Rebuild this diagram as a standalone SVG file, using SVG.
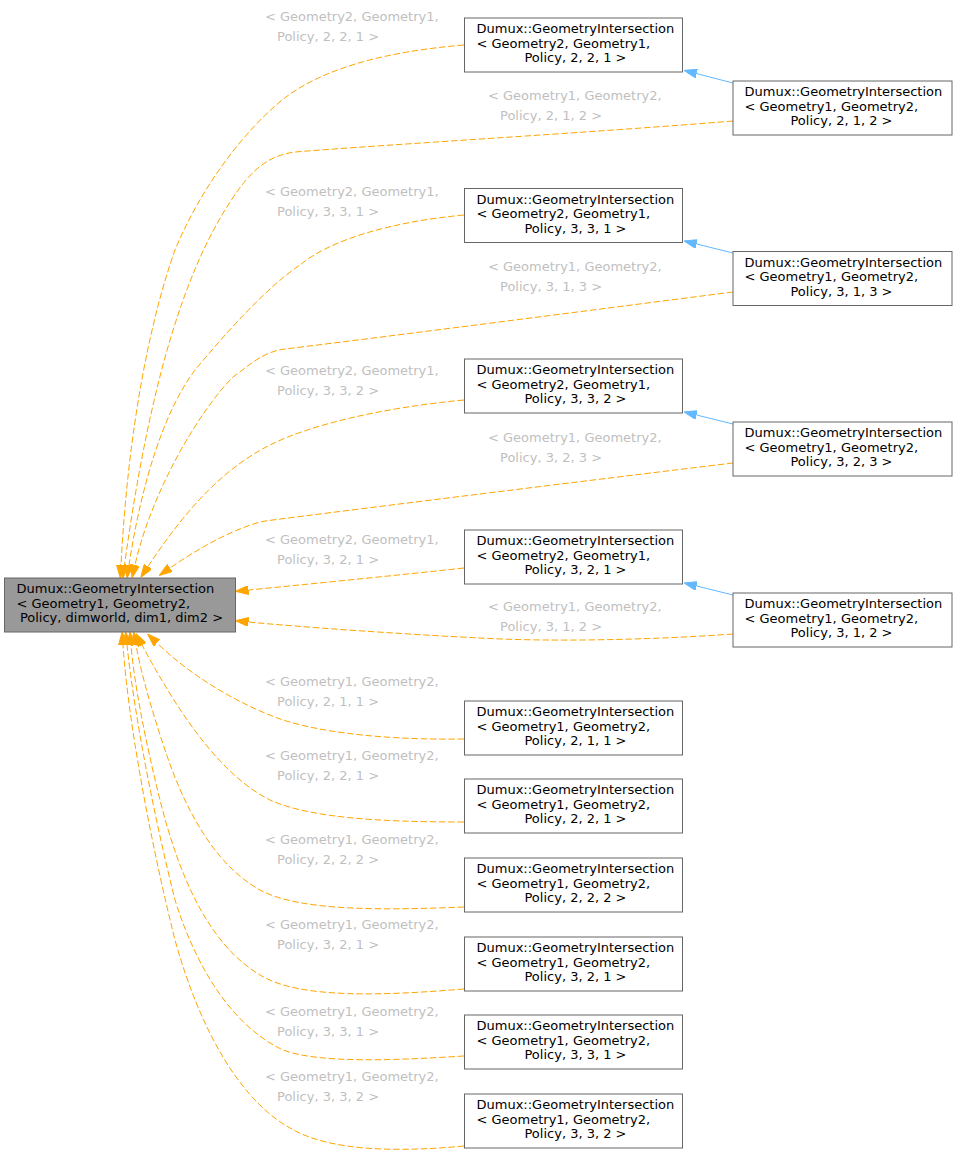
<svg xmlns="http://www.w3.org/2000/svg" width="957" height="1156" viewBox="0 0 957 1156">
<style>
.box{fill:#ffffff;stroke:#666666;stroke-width:1}
.main{fill:#999999;stroke:#666666;stroke-width:1}
.t{font-family:"DejaVu Sans","Liberation Sans",sans-serif;font-size:13px;fill:#000000}
.m{text-anchor:middle}
.lbl{font-family:"DejaVu Sans","Liberation Sans",sans-serif;font-size:13px;fill:#bfbfbf}
.oe{fill:none;stroke:#ffa500;stroke-width:1;stroke-dasharray:6.5,2.7}
.be{fill:none;stroke:#63b8ff;stroke-width:1}
</style>
<defs>
<marker id="ao" viewBox="0 0 13 9" refX="0" refY="4.5" markerWidth="13" markerHeight="9" markerUnits="userSpaceOnUse" orient="auto">
<path d="M0,0 L13,4.5 L0,9 z" fill="#ffa500" stroke="#ffa500" stroke-width="1"/>
</marker>
<marker id="ab" viewBox="0 0 13 9" refX="0" refY="4.5" markerWidth="13" markerHeight="9" markerUnits="userSpaceOnUse" orient="auto">
<path d="M0,0 L13,4.5 L0,9 z" fill="#63b8ff" stroke="#63b8ff" stroke-width="1"/>
</marker>
</defs>
<rect width="957" height="1156" fill="#ffffff"/>
<g id="connectors">
<path class="oe" marker-end="url(#ao)" d="M464,45 C380,52 320,70 282,100 C240,135 200,190 175,250 C150,320 128,430 121,565"/>
<path class="oe" marker-end="url(#ao)" d="M733,121 C600,132 380,145 295,152 C262,156 245,178 225,210 C185,275 150,380 124.5,565"/>
<path class="oe" marker-end="url(#ao)" d="M464,215 C390,222 330,240 300,265 C265,288 220,340 195,370 C165,410 142,480 129,565"/>
<path class="oe" marker-end="url(#ao)" d="M733,292 C600,309 400,335 285,349 C262,352 250,365 233,377 C200,410 152,490 135,565"/>
<path class="oe" marker-end="url(#ao)" d="M464,400 C380,408 310,425 270,445 C220,470 182,515 148,566.5"/>
<path class="oe" marker-end="url(#ao)" d="M733,463 C600,479 350,510 265,521 C240,526 203,545 170,568"/>
<path class="oe" marker-end="url(#ao)" d="M464,568 C400,575 300,585 248.5,590"/>
<path class="oe" marker-end="url(#ao)" d="M733,634 C650,640 550,642 480,638 C400,634 300,627 248.5,622"/>
<path class="oe" marker-end="url(#ao)" d="M464,739 C400,740 330,735 283,720 C240,705 192,677 157,643"/>
<path class="oe" marker-end="url(#ao)" d="M464,822 C380,822 310,818 270,800 C220,775 178,712 142,645"/>
<path class="oe" marker-end="url(#ao)" d="M464,907 C390,910 300,912 260,890 C215,865 185,810 165,750 C150,705 141,672 136,645"/>
<path class="oe" marker-end="url(#ao)" d="M464,989 C390,995 300,1000 260,975 C210,945 180,880 160,800 C145,740 134,682 131,645"/>
<path class="oe" marker-end="url(#ao)" d="M464,1056 C400,1060 320,1064 283,1050 C240,1030 200,980 175,900 C155,820 135,720 127,645"/>
<path class="oe" marker-end="url(#ao)" d="M464,1146 C400,1152 330,1152 290,1128 C240,1100 200,1030 175,940 C150,840 128,720 123,645"/>
<path class="be" marker-end="url(#ab)" d="M733,83 L696.6,73.6"/>
<path class="be" marker-end="url(#ab)" d="M733,253 L696.6,244"/>
<path class="be" marker-end="url(#ab)" d="M733,424 L696.6,415"/>
<path class="be" marker-end="url(#ab)" d="M733,595 L696.6,586"/>
</g>
<g id="edge-labels">
<text class="lbl" x="265" y="21">&lt; Geometry2, Geometry1,</text><text class="lbl" x="277" y="41">Policy, 2, 2, 1 &gt;</text>
<text class="lbl" x="488" y="100">&lt; Geometry1, Geometry2,</text><text class="lbl" x="500" y="120">Policy, 2, 1, 2 &gt;</text>
<text class="lbl" x="265" y="196">&lt; Geometry2, Geometry1,</text><text class="lbl" x="277" y="216">Policy, 3, 3, 1 &gt;</text>
<text class="lbl" x="488" y="271">&lt; Geometry1, Geometry2,</text><text class="lbl" x="500" y="291">Policy, 3, 1, 3 &gt;</text>
<text class="lbl" x="265" y="375">&lt; Geometry2, Geometry1,</text><text class="lbl" x="277" y="395">Policy, 3, 3, 2 &gt;</text>
<text class="lbl" x="488" y="442">&lt; Geometry1, Geometry2,</text><text class="lbl" x="500" y="462">Policy, 3, 2, 3 &gt;</text>
<text class="lbl" x="265" y="544">&lt; Geometry2, Geometry1,</text><text class="lbl" x="277" y="564">Policy, 3, 2, 1 &gt;</text>
<text class="lbl" x="488" y="611">&lt; Geometry1, Geometry2,</text><text class="lbl" x="500" y="631">Policy, 3, 1, 2 &gt;</text>
<text class="lbl" x="265" y="685.5">&lt; Geometry1, Geometry2,</text><text class="lbl" x="277" y="705.5">Policy, 2, 1, 1 &gt;</text>
<text class="lbl" x="265" y="759.5">&lt; Geometry1, Geometry2,</text><text class="lbl" x="277" y="779.5">Policy, 2, 2, 1 &gt;</text>
<text class="lbl" x="265" y="844">&lt; Geometry1, Geometry2,</text><text class="lbl" x="277" y="864">Policy, 2, 2, 2 &gt;</text>
<text class="lbl" x="265" y="929">&lt; Geometry1, Geometry2,</text><text class="lbl" x="277" y="949">Policy, 3, 2, 1 &gt;</text>
<text class="lbl" x="265" y="1015.5">&lt; Geometry1, Geometry2,</text><text class="lbl" x="277" y="1035.5">Policy, 3, 3, 1 &gt;</text>
<text class="lbl" x="265" y="1080.5">&lt; Geometry1, Geometry2,</text><text class="lbl" x="277" y="1100.5">Policy, 3, 3, 2 &gt;</text>
</g>
<g id="node-main">
<rect class="main" x="4.5" y="578" width="231" height="54"/>
<text class="t" x="16.5" y="593">Dumux::GeometryIntersection</text>
<text class="t" x="16.5" y="607.5">&lt; Geometry1, Geometry2,</text>
<text class="t m" x="121.5" y="622">Policy, dimworld, dim1, dim2 &gt;</text>
</g>
<g id="node-a1">
<rect class="box" x="464.5" y="18" width="218" height="54"/>
<text class="t" x="476.5" y="33">Dumux::GeometryIntersection</text>
<text class="t" x="476.5" y="47.5">&lt; Geometry2, Geometry1,</text>
<text class="t m" x="575.5" y="62">Policy, 2, 2, 1 &gt;</text>
</g>
<g id="node-b1">
<rect class="box" x="733" y="81" width="219" height="54"/>
<text class="t" x="744.5" y="96">Dumux::GeometryIntersection</text>
<text class="t" x="744.5" y="110.5">&lt; Geometry1, Geometry2,</text>
<text class="t m" x="841.5" y="125">Policy, 2, 1, 2 &gt;</text>
</g>
<g id="node-a2">
<rect class="box" x="464.5" y="188.5" width="218" height="54"/>
<text class="t" x="476.5" y="203.5">Dumux::GeometryIntersection</text>
<text class="t" x="476.5" y="218">&lt; Geometry2, Geometry1,</text>
<text class="t m" x="575.5" y="232.5">Policy, 3, 3, 1 &gt;</text>
</g>
<g id="node-b2">
<rect class="box" x="733" y="251.5" width="219" height="54"/>
<text class="t" x="744.5" y="266.5">Dumux::GeometryIntersection</text>
<text class="t" x="744.5" y="281">&lt; Geometry1, Geometry2,</text>
<text class="t m" x="841.5" y="295.5">Policy, 3, 1, 3 &gt;</text>
</g>
<g id="node-a3">
<rect class="box" x="464.5" y="359" width="218" height="54"/>
<text class="t" x="476.5" y="374">Dumux::GeometryIntersection</text>
<text class="t" x="476.5" y="388.5">&lt; Geometry2, Geometry1,</text>
<text class="t m" x="575.5" y="403">Policy, 3, 3, 2 &gt;</text>
</g>
<g id="node-b3">
<rect class="box" x="733" y="422" width="219" height="54"/>
<text class="t" x="744.5" y="437">Dumux::GeometryIntersection</text>
<text class="t" x="744.5" y="451.5">&lt; Geometry1, Geometry2,</text>
<text class="t m" x="841.5" y="466">Policy, 3, 2, 3 &gt;</text>
</g>
<g id="node-a4">
<rect class="box" x="464.5" y="530" width="218" height="54"/>
<text class="t" x="476.5" y="545">Dumux::GeometryIntersection</text>
<text class="t" x="476.5" y="559.5">&lt; Geometry2, Geometry1,</text>
<text class="t m" x="575.5" y="574">Policy, 3, 2, 1 &gt;</text>
</g>
<g id="node-b4">
<rect class="box" x="733" y="593" width="219" height="54"/>
<text class="t" x="744.5" y="608">Dumux::GeometryIntersection</text>
<text class="t" x="744.5" y="622.5">&lt; Geometry1, Geometry2,</text>
<text class="t m" x="841.5" y="637">Policy, 3, 1, 2 &gt;</text>
</g>
<g id="node-c1">
<rect class="box" x="464.5" y="701" width="218" height="54"/>
<text class="t" x="476.5" y="716">Dumux::GeometryIntersection</text>
<text class="t" x="476.5" y="730.5">&lt; Geometry1, Geometry2,</text>
<text class="t m" x="575.5" y="745">Policy, 2, 1, 1 &gt;</text>
</g>
<g id="node-c2">
<rect class="box" x="464.5" y="779" width="218" height="54"/>
<text class="t" x="476.5" y="794">Dumux::GeometryIntersection</text>
<text class="t" x="476.5" y="808.5">&lt; Geometry1, Geometry2,</text>
<text class="t m" x="575.5" y="823">Policy, 2, 2, 1 &gt;</text>
</g>
<g id="node-c3">
<rect class="box" x="464.5" y="858" width="218" height="54"/>
<text class="t" x="476.5" y="873">Dumux::GeometryIntersection</text>
<text class="t" x="476.5" y="887.5">&lt; Geometry1, Geometry2,</text>
<text class="t m" x="575.5" y="902">Policy, 2, 2, 2 &gt;</text>
</g>
<g id="node-c4">
<rect class="box" x="464.5" y="937" width="218" height="54"/>
<text class="t" x="476.5" y="952">Dumux::GeometryIntersection</text>
<text class="t" x="476.5" y="966.5">&lt; Geometry1, Geometry2,</text>
<text class="t m" x="575.5" y="981">Policy, 3, 2, 1 &gt;</text>
</g>
<g id="node-c5">
<rect class="box" x="464.5" y="1015" width="218" height="54"/>
<text class="t" x="476.5" y="1030">Dumux::GeometryIntersection</text>
<text class="t" x="476.5" y="1044.5">&lt; Geometry1, Geometry2,</text>
<text class="t m" x="575.5" y="1059">Policy, 3, 3, 1 &gt;</text>
</g>
<g id="node-c6">
<rect class="box" x="464.5" y="1094" width="218" height="54"/>
<text class="t" x="476.5" y="1109">Dumux::GeometryIntersection</text>
<text class="t" x="476.5" y="1123.5">&lt; Geometry1, Geometry2,</text>
<text class="t m" x="575.5" y="1138">Policy, 3, 3, 2 &gt;</text>
</g>
</svg>
